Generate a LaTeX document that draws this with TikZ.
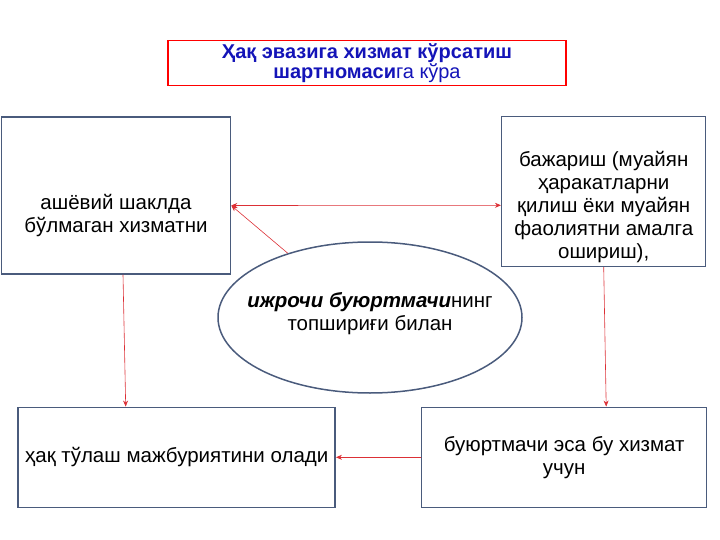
\documentclass[tikz,border=0pt]{standalone}
\usepackage{fontspec}
\setmainfont{Liberation Sans}
\usetikzlibrary{arrows.meta,shapes.geometric}
\definecolor{boxline}{HTML}{4A5B7C}
\definecolor{linkred}{HTML}{DC3036}
\definecolor{headblue}{HTML}{1414B8}

\begin{document}
\begin{tikzpicture}[x=1pt, y=-1pt,
    box/.style={draw=boxline, line width=1.5pt, inner sep=0pt, align=center, font=\fontsize{20.5}{23}\selectfont},
    boxtext/.style={align=center, font=\fontsize{20.5}{23}\selectfont},
    link/.style={draw=linkred, line width=0.6pt, -{Stealth[length=6pt, width=5pt]}}]
  \useasboundingbox (0,0) rectangle (720,540);

  % heading
  \node[draw=red, line width=1.2pt, minimum width=398pt, minimum height=38pt, text=headblue,
        align=center, font=\fontsize{20}{18}\selectfont] (title) at (367,63)
        {\textbf{Ҳақ эвазига хизмат кўрсатиш}\\\textbf{шартномаси}га кўра};

  % upper boxes
  \node[box, minimum width=229pt, minimum height=157pt,
        label={[boxtext, yshift=-20pt]center:ашёвий шаклда\\бўлмаган хизматни}] (goods) at (116,195.5) {};
  \node[box, minimum width=204pt, minimum height=150pt,
        label={[boxtext, yshift=-16pt]center:бажариш (муайян\\ҳаракатларни\\қилиш ёки муайян\\фаолиятни амалга\\ошириш),}] (perform) at (603.7,191.3) {};

  % centre
  \node[box, ellipse, minimum width=304pt, minimum height=151pt,
        label={[boxtext, yshift=4pt]center:\textbf{\textit{ижрочи буюртмачи}}нинг\\топшириғи билан}] (task) at (370,317.5) {};

  % lower boxes
  \node[box, minimum width=317pt, minimum height=100pt] (duty) at (176.7,457.3)
        {ҳақ тўлаш мажбуриятини олади};
  \node[box, minimum width=285pt, minimum height=100pt] (client) at (564.2,457.3)
        {буюртмачи эса бу хизмат\\учун};

  % links
  \draw[link, {Stealth[length=6pt, width=5pt]}-{Stealth[length=6pt, width=5pt]}]
    ([yshift=-10pt]goods.east) -- ([yshift=-14pt]perform.west);
  \draw[link] (task.142) -- ([yshift=-10pt]goods.east);
  \draw[link] ([xshift=7pt]goods.south) -- ([xshift=-51pt]duty.north);
  \draw[link] (perform.south) -- ([xshift=42pt]client.north);
  \draw[link] (client.west) -- (duty.east);
\end{tikzpicture}
\end{document}
